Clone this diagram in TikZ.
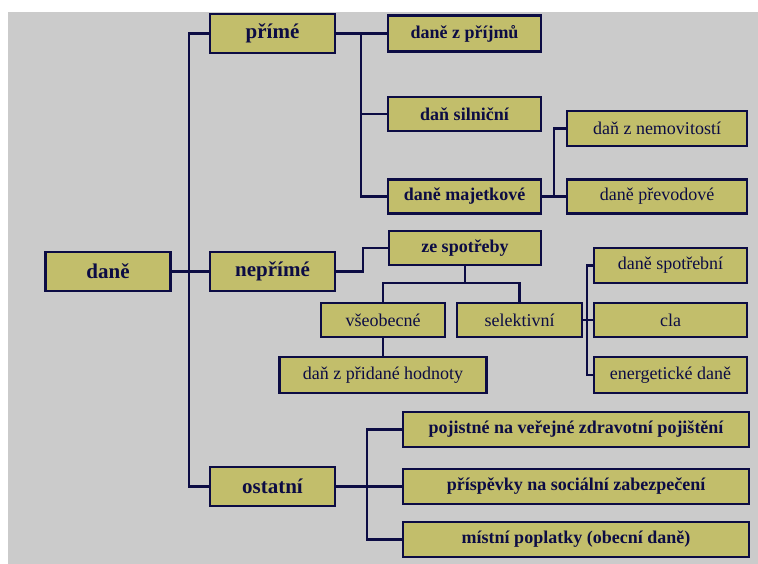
\documentclass[tikz,border=0pt]{standalone}
\usepackage{fontspec}
\setmainfont{Liberation Serif}
\definecolor{bgGray}{RGB}{203,203,203}
\definecolor{boxFill}{RGB}{194,190,107}
\definecolor{navy}{RGB}{12,12,68}
\begin{document}
\begin{tikzpicture}[x=1pt, y=-1pt, conn/.style = {draw=navy, line width=2.2pt},
	main/.style = {draw=navy, line width=2.6pt, fill=boxFill, text=navy, inner sep=0pt, font=\fontsize{21}{23}\selectfont\bfseries, minimum width=125, minimum height=39},
	sub/.style = {main, font=\fontsize{18}{20}\selectfont\bfseries, minimum width=153, minimum height=34},
	leaf/.style = {sub, font=\fontsize{18}{20}\selectfont}]
	\useasboundingbox (0,0) rectangle (758,564);
	\fill[bgGray] (8,12) rectangle (758,564);
	
	\node[main] (dane) at (108,271.5) {daně};
	\node[main] (prime) at (272.5,33.5) {přímé};
	\node[main] (neprime) at (272.5,271.5) {nepřímé};
	\node[main] (ostatni) at (272.5,486.5) {ostatní};
	
	\node[sub, minimum height=36] (prijmu) at (464.5,33.5) {daně z příjmů};
	\node[sub] (silnicni) at (464.5,114) {daň silniční};
	\node[sub] (majetkove) at (464.5,196.5) {daně majetkové};
	\node[leaf, minimum width=180, minimum height=35] (nemovitosti) at (657,128.5) {daň z nemovitostí};
	\node[leaf, minimum width=180] (prevodove) at (657,196.5) {daně převodové};
	
	\node[sub, minimum width=152] (spotreby) at (465,248) {ze spotřeby};
	\node[leaf, minimum width=124] (vseobecne) at (383,320) {všeobecné};
	\node[leaf, minimum width=125] (selektivni) at (519.5,320) {selektivní};
	\node[leaf, minimum width=207, minimum height=36] (pridane) at (383,375) {daň z přidané hodnoty};
	\node[leaf, minimum height=35] (spotrebni) at (670.5,265.5) {daně spotřební};
	\node[leaf] (cla) at (670.5,320) {cla};
	\node[leaf, minimum height=36] (energeticke) at (670.5,375) {energetické daně};
	
	\node[sub, minimum width=346, minimum height=35] (pojistne) at (576,429.5) {pojistné na veřejné zdravotní pojištění};
	\node[sub, minimum width=346, minimum height=35] (prispevky) at (576,486.5) {příspěvky na sociální zabezpečení};
	\node[sub, minimum width=346, minimum height=35] (mistni) at (576,539.5) {místní poplatky (obecní daně)};
	
	\draw[conn] (prime.west) -- ++(-20,0) |- (ostatni.west);
	\draw[conn] (dane) -- (neprime);
	
	\draw[conn] (prime) -- (prijmu);
	\draw[conn] (prijmu.west) ++(-26,0) |- (majetkove.west);
	\draw[conn] (silnicni.west) -- ++(-26,0);
	\draw[conn] (majetkove.east) -- ++(12,0) |- (nemovitosti.west);
	\draw[conn] (majetkove) -- (prevodove);
	
	\draw[conn] (neprime.east) -- ++(27,0) |- (spotreby.west);
	\draw[conn] (spotreby.south) -- ++(0,17) -| (vseobecne.north);
	\draw[conn] (spotreby.south) ++(0,17) -| (selektivni.north);
	\draw[conn] (vseobecne) -- (pridane);
	\draw[conn] (selektivni) -- (cla);
	\draw[conn] (spotrebni.west) -- ++(-6,0) |- (energeticke.west);
	
	\draw[conn] (ostatni) -- (prispevky);
	\draw[conn] (pojistne.west) -- ++(-35,0) |- (mistni.west);
\end{tikzpicture}
\end{document}
